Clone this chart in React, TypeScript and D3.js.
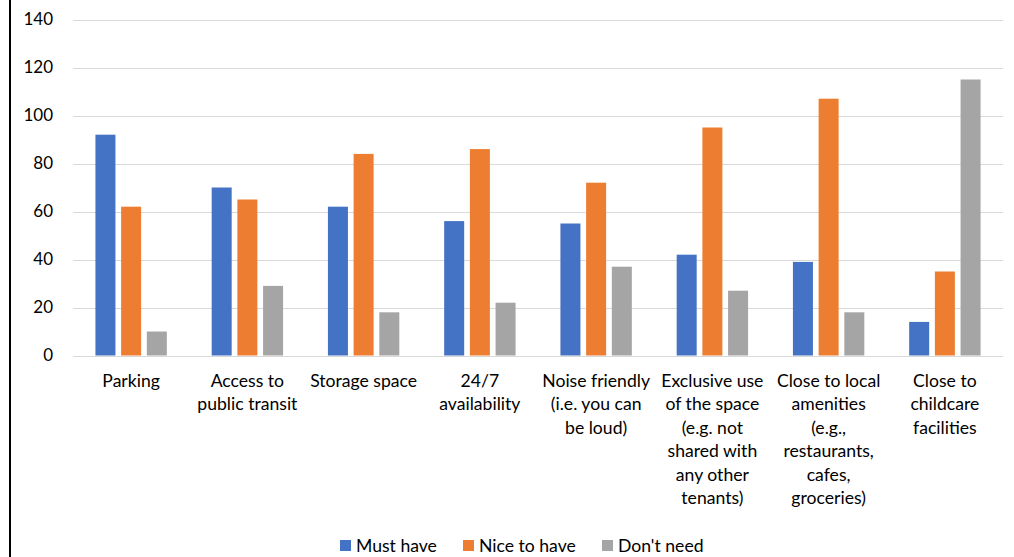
import React from "react";
import * as d3 from "d3";

const categories = [
  ["Parking"],
  ["Access to", "public transit"],
  ["Storage space"],
  ["24/7", "availability"],
  ["Noise friendly", "(i.e. you can", "be loud)"],
  ["Exclusive use", "of the space", "(e.g. not", "shared with", "any other", "tenants)"],
  ["Close to local", "amenities", "(e.g.,", "restaurants,", "cafes,", "groceries)"],
  ["Close to", "childcare", "facilities"],
];
const mustHave = [92, 70, 62, 56, 55, 42, 39, 14];
const niceToHave = [62, 65, 84, 86, 72, 95, 107, 35];
const dontNeed = [10, 29, 18, 22, 37, 27, 18, 115];
const seriesNames = ["Must have", "Nice to have", "Don't need"];
const colors = ["#4472C4", "#ED7D31", "#A5A5A5"];
const yTicks = [0, 20, 40, 60, 80, 100, 120, 140];

export default function App() {
  const W = 1014, H = 557;
  const left = 73, right = 1003, top = 19.5, bottom = 355.5;
  const font = "Lato, 'Open Sans', sans-serif";
  const fs = 17.6;
  const x = d3.scaleBand<number>().domain(d3.range(categories.length)).range([left, right]);
  const y = d3.scaleLinear().domain([0, 140]).range([bottom, top]);
  const series = [mustHave, niceToHave, dontNeed];
  const barW = 20, gap = 5.7;
  const groupW = barW * 3 + gap * 2;
  const legendX = [340, 463, 602];
  return (
    <svg width={W} height={H} style={{ position: "absolute", left: 0, top: 0, background: "#fff" }}>
      <rect x={0} y={0} width={W} height={H} fill="#fff" />
      <line x1={10} x2={10} y1={0} y2={H} stroke="#000" strokeWidth={2} />
      {yTicks.map((t) => (
        <g key={t}>
          <line x1={left} x2={right} y1={Math.round(y(t)) + 0.5} y2={Math.round(y(t)) + 0.5} stroke="#D9D9D9" strokeWidth={1} />
          <text x={53} y={y(t)} dy="0.35em" textAnchor="end" fontFamily={font} fontSize={17} fill="#000">{t}</text>
        </g>
      ))}
      {series.map((vals, si) =>
        vals.map((v, ci) => {
          const cx = x(ci)! + x.bandwidth() / 2;
          const bx = cx - groupW / 2 + si * (barW + gap);
          return <rect key={si + "-" + ci} x={bx} y={y(v)} width={barW} height={y(0) - y(v)} fill={colors[si]} />;
        })
      )}
      <line x1={left} x2={right} y1={Math.round(y(0)) + 0.5} y2={Math.round(y(0)) + 0.5} stroke="#D9D9D9" strokeWidth={1} />
      {categories.map((lines, ci) => (
        <text key={ci} textAnchor="middle" fontFamily={font} fontSize={fs} fill="#000">
          {lines.map((l, li) => (
            <tspan key={li} x={x(ci)! + x.bandwidth() / 2} y={387 + li * 23.4}>{l}</tspan>
          ))}
        </text>
      ))}
      {seriesNames.map((n, i) => (
        <g key={n}>
          <rect x={legendX[i]} y={540} width={11} height={11} fill={colors[i]} />
          <text x={legendX[i] + 16} y={546} dy="0.35em" fontFamily={font} fontSize={fs} fill="#000">{n}</text>
        </g>
      ))}
    </svg>
  );
}
